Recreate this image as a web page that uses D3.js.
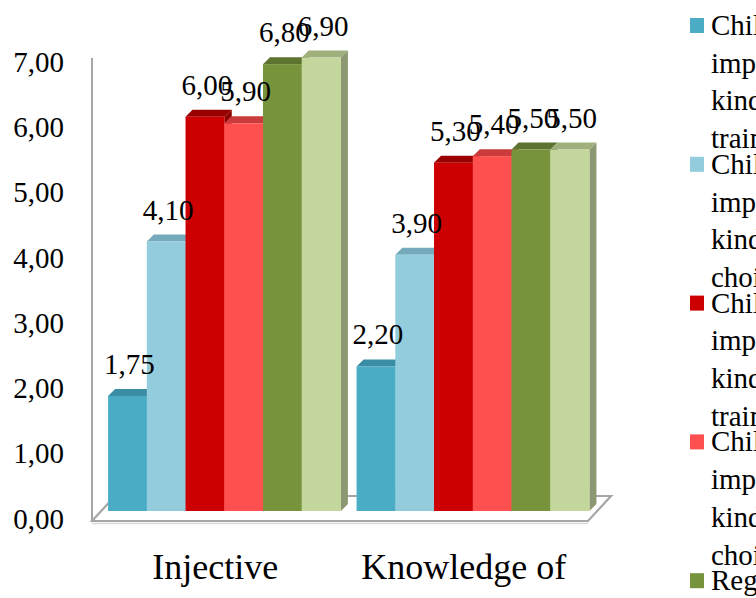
<!DOCTYPE html>
<html><head><meta charset="utf-8">
<script src="https://cdn.jsdelivr.net/npm/d3@7"></script>
<style>html,body{margin:0;padding:0;background:#fff;overflow:hidden}svg{display:block}</style>
</head><body>
<script>
const categories = ["Injective", "Knowledge of"];
const seriesNames = [
  ["Children with", "impaired hearing,", "kindergarten,", "training group"],
  ["Children with", "impaired hearing,", "kindergarten,", "choice group"],
  ["Children with", "impaired vision,", "kindergarten,", "training group"],
  ["Children with", "impaired vision,", "kindergarten,", "choice group"],
  ["Regular", "kindergarten,", "training group"],
  ["Regular", "kindergarten,", "choice group"]
];
const seriesValues = [
  [1.75, 2.20],
  [4.10, 3.90],
  [6.00, 5.30],
  [5.90, 5.40],
  [6.80, 5.50],
  [6.90, 5.50]
];
const valueLabels = [
  ["1,75", "2,20"],
  ["4,10", "3,90"],
  ["6,00", "5,30"],
  ["5,90", "5,40"],
  ["6,80", "5,50"],
  ["6,90", "5,50"]
];
const tickValues = [0, 1, 2, 3, 4, 5, 6, 7];
const tickLabels = ["0,00", "1,00", "2,00", "3,00", "4,00", "5,00", "6,00", "7,00"];
const colors = ["#4bacc6", "#93cddd", "#cc0000", "#ff5050", "#77933c", "#c3d69b"];
const topColors = ["#3b8da3", "#74aabb", "#990000", "#cc3b3b", "#5d7430", "#9fb07c"];
const sideColors = ["#357f93", "#6d9fae", "#8a0000", "#b83535", "#556a2c", "#8d9872"];

const W = 756, H = 598;
const FONT = "'Liberation Serif','Times New Roman',serif";
const svg = d3.select("body").append("svg").attr("width", W).attr("height", H);

const x0 = d3.scaleBand().domain(categories).range([100, 597]).paddingInner(0.065).paddingOuter(0.0325);
const x1 = d3.scaleBand().domain(d3.range(seriesValues.length)).range([0, x0.bandwidth()]).padding(0);
const y = d3.scaleLinear().domain([0, 7]).range([511, 51]);
const yLab = d3.scaleLinear().domain([0, 7]).range([519, 62]);
const DX = 7, DY = 7;

// floor
const fl = 92, fr = x0.range()[1] - 9;
svg.append("polygon")
  .attr("points", [[fl, 521], [fr, 521], [fr + 23, 496], [fl + 23, 496]].map(p => p.join(",")).join(" "))
  .attr("fill", "#fff").attr("stroke", "#a6a6a6").attr("stroke-width", 2.2);
svg.append("line").attr("x1", fl).attr("x2", fr).attr("y1", 523.5).attr("y2", 523.5)
  .attr("stroke", "#d9d9d9").attr("stroke-width", 1.5);
// wall line
svg.append("line").attr("x1", 92).attr("x2", 92).attr("y1", 58).attr("y2", 521)
  .attr("stroke", "#a6a6a6").attr("stroke-width", 2);

// y axis labels
const yAxis = d3.axisLeft(yLab).tickValues(tickValues).tickFormat((d, i) => tickLabels[i]).tickSize(0).tickPadding(0);
const ag = svg.append("g").attr("transform", "translate(64,0)").call(yAxis);
ag.select(".domain").remove();
ag.selectAll("text").attr("font-family", FONT).attr("font-size", 29).attr("fill", "#000");

// bars
categories.forEach((cat, ci) => {
  const g = svg.append("g").attr("transform", `translate(${x0(cat)},0)`);
  seriesValues.forEach((vals, si) => {
    const v = vals[ci];
    const bx = x1(si), bw = x1.bandwidth() + 0.5, top = y(v), base = y(0);
    g.append("polygon")
      .attr("points", [[bx + bw, top], [bx + bw + DX, top - DY], [bx + bw + DX, base - DY], [bx + bw, base]].map(p => p.join(",")).join(" "))
      .attr("fill", sideColors[si]);
    g.append("polygon")
      .attr("points", [[bx, top], [bx + DX, top - DY], [bx + bw + DX, top - DY], [bx + bw, top]].map(p => p.join(",")).join(" "))
      .attr("fill", topColors[si]);
    g.append("rect").attr("x", bx).attr("y", top).attr("width", bw).attr("height", base - top)
      .attr("fill", colors[si]);
  });
});
// value labels
categories.forEach((cat, ci) => {
  seriesValues.forEach((vals, si) => {
    svg.append("text")
      .attr("x", x0(cat) + x1(si) + x1.bandwidth() / 2 + 2)
      .attr("y", y(vals[ci]) - 22)
      .attr("text-anchor", "middle")
      .attr("font-family", FONT).attr("font-size", 29).attr("fill", "#000")
      .text(valueLabels[si][ci]);
  });
});

// category labels
categories.forEach(cat => {
  svg.append("text")
    .attr("x", x0(cat) + x0.bandwidth() / 2 - 9)
    .attr("y", 579)
    .attr("text-anchor", "middle")
    .attr("font-family", FONT).attr("font-size", 36).attr("fill", "#000")
    .text(cat);
});

// legend
const legend = svg.append("g");
seriesNames.forEach((lines, si) => {
  const ly = 18 + si * 138.8;
  legend.append("rect").attr("x", 690).attr("y", ly).attr("width", 14).attr("height", 15).attr("fill", colors[si]);
  lines.forEach((t, li) => {
    legend.append("text").attr("x", 711).attr("y", ly + 17 + li * 37.7)
      .attr("font-family", FONT).attr("font-size", 29).attr("fill", "#000").text(t);
  });
});
</script>
</body></html>
